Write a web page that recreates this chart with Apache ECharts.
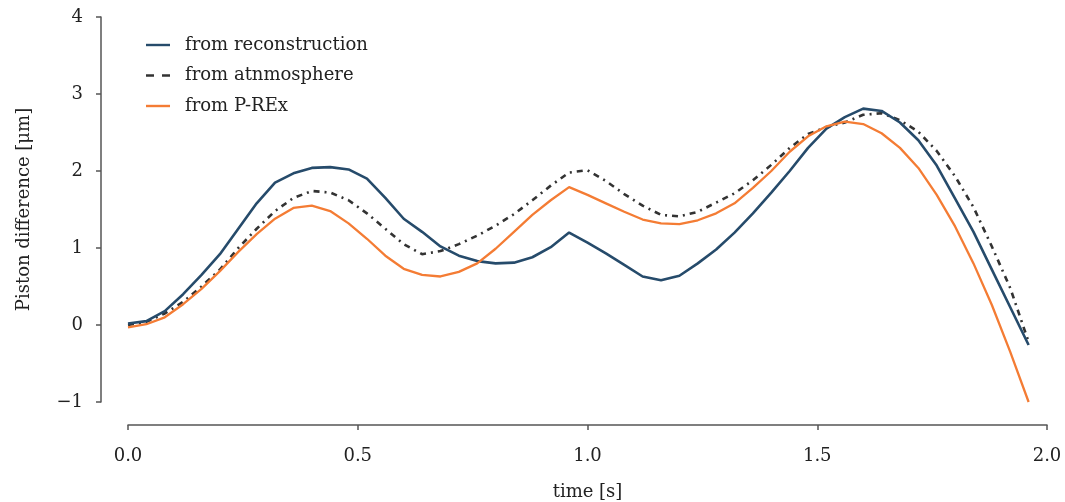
<!DOCTYPE html>
<html>
<head>
<meta charset="utf-8">
<script src="https://cdn.jsdelivr.net/npm/echarts@6/dist/echarts.min.js"></script>
<style>
  html, body { margin: 0; padding: 0; background: #fff; }
  #chart { width: 1065px; height: 502px; }
</style>
</head>
<body>
<div id="chart"></div>
<script>
// Sample times [s]
const time = [0.00, 0.04, 0.08, 0.12, 0.16, 0.20, 0.24, 0.28, 0.32, 0.36,
              0.40, 0.44, 0.48, 0.52, 0.56, 0.60, 0.64, 0.68, 0.72, 0.76,
              0.80, 0.84, 0.88, 0.92, 0.96, 1.00, 1.04, 1.08, 1.12, 1.16,
              1.20, 1.24, 1.28, 1.32, 1.36, 1.40, 1.44, 1.48, 1.52, 1.56,
              1.60, 1.64, 1.68, 1.72, 1.76, 1.80, 1.84, 1.88, 1.92, 1.96];

// Piston difference [µm]
const reconstruction = [0.02, 0.05, 0.18, 0.40, 0.65, 0.92, 1.25, 1.58, 1.85, 1.97,
                        2.04, 2.05, 2.02, 1.90, 1.65, 1.38, 1.21, 1.02, 0.90, 0.83,
                        0.80, 0.81, 0.88, 1.01, 1.20, 1.07, 0.93, 0.78, 0.63, 0.58,
                        0.64, 0.80, 0.98, 1.20, 1.45, 1.72, 2.00, 2.30, 2.55, 2.70,
                        2.81, 2.78, 2.63, 2.40, 2.07, 1.64, 1.21, 0.72, 0.23, -0.26];

const atmosphere = [0.00, 0.04, 0.15, 0.30, 0.50, 0.72, 1.00, 1.25, 1.48, 1.65,
                    1.74, 1.72, 1.62, 1.45, 1.25, 1.05, 0.92, 0.96, 1.05, 1.16,
                    1.29, 1.44, 1.62, 1.81, 1.98, 2.01, 1.87, 1.70, 1.55, 1.43,
                    1.41, 1.47, 1.59, 1.71, 1.88, 2.08, 2.30, 2.48, 2.57, 2.63,
                    2.73, 2.75, 2.66, 2.51, 2.26, 1.93, 1.53, 1.02, 0.48, -0.22];

const prex = [-0.03, 0.01, 0.10, 0.27, 0.47, 0.70, 0.95, 1.18, 1.38, 1.52,
              1.55, 1.48, 1.32, 1.12, 0.90, 0.73, 0.65, 0.63, 0.69, 0.80,
              0.99, 1.21, 1.43, 1.62, 1.79, 1.69, 1.58, 1.47, 1.37, 1.32,
              1.31, 1.36, 1.45, 1.58, 1.78, 2.00, 2.25, 2.45, 2.58, 2.64,
              2.61, 2.49, 2.30, 2.04, 1.69, 1.28, 0.80, 0.26, -0.35, -1.00];

const xTicks = [0.0, 0.5, 1.0, 1.5, 2.0];
const yTicks = [-1, 0, 1, 2, 3, 4];

const FONT = '"DejaVu Serif", serif';
const AXIS_COLOR = '#555';
const TEXT_COLOR = '#222';
const BLUE = '#264b6b';
const GREY = '#333';
const ORANGE = '#f47c34';

const pair = (ys) => time.map((t, i) => [t, ys[i]]);

// Legend keys: plain stroke, and a pair of dashes for the dash-dot series
const SOLID_KEY = 'path://M0,0H24V2.4H0Z';
const DASH_KEY = 'path://M0,0H8V2.4H0Z M16,0H24V2.4H16Z';

const chart = echarts.init(document.getElementById('chart'), null, { renderer: 'canvas' });

chart.setOption({
  animation: false,
  backgroundColor: '#fff',
  textStyle: { fontFamily: FONT, color: TEXT_COLOR },
  grid: { left: 128, right: 18, top: 17, bottom: 100, containLabel: false, outerBoundsMode: 'none' },
  legend: {
    left: 141,
    top: 31,
    orient: 'vertical',
    itemWidth: 24,
    itemHeight: 2.4,
    itemGap: 12.5,
    textStyle: { fontFamily: FONT, fontSize: 18, color: TEXT_COLOR, padding: [0, 0, 0, 10] },
    data: [
      { name: 'from reconstruction', icon: SOLID_KEY, itemStyle: { color: BLUE } },
      { name: 'from atnmosphere', icon: DASH_KEY, itemStyle: { color: GREY } },
      { name: 'from P-REx', icon: SOLID_KEY, itemStyle: { color: ORANGE } }
    ]
  },
  xAxis: {
    type: 'value',
    min: xTicks[0],
    max: xTicks[xTicks.length - 1],
    interval: 0.5,
    offset: 23,
    name: 'time [s]',
    nameLocation: 'middle',
    nameGap: 58,
    nameTextStyle: { fontFamily: FONT, fontSize: 18, color: TEXT_COLOR },
    axisLine: { show: true, onZero: false, lineStyle: { color: AXIS_COLOR, width: 1.5 } },
    axisTick: { show: true, length: 5, lineStyle: { color: AXIS_COLOR, width: 1.5 } },
    axisLabel: {
      margin: 22,
      fontFamily: FONT, fontSize: 18, color: TEXT_COLOR,
      formatter: (v) => v.toFixed(1)
    },
    splitLine: { show: false }
  },
  yAxis: {
    type: 'value',
    min: yTicks[0],
    max: yTicks[yTicks.length - 1],
    interval: 1,
    offset: 27,
    name: 'Piston difference [μm]',
    nameLocation: 'middle',
    nameGap: 68,
    nameRotate: 90,
    nameTextStyle: { fontFamily: FONT, fontSize: 18, color: TEXT_COLOR },
    axisLine: { show: true, onZero: false, lineStyle: { color: AXIS_COLOR, width: 1.5 } },
    axisTick: { show: true, length: 5, lineStyle: { color: AXIS_COLOR, width: 1.5 } },
    axisLabel: {
      margin: 18,
      fontFamily: FONT, fontSize: 18, color: TEXT_COLOR,
      formatter: (v) => String(v).replace('-', '\u2212')
    },
    splitLine: { show: false }
  },
  series: [
    {
      name: 'from reconstruction',
      type: 'line',
      data: pair(reconstruction),
      symbol: 'none',
      lineStyle: { color: BLUE, width: 2.6 },
      itemStyle: { color: BLUE },
      z: 3
    },
    {
      name: 'from atnmosphere',
      type: 'line',
      data: pair(atmosphere),
      symbol: 'none',
      lineStyle: { color: GREY, width: 2.6, type: [6, 5, 2, 5] },
      itemStyle: { color: GREY },
      z: 2
    },
    {
      name: 'from P-REx',
      type: 'line',
      data: pair(prex),
      symbol: 'none',
      lineStyle: { color: ORANGE, width: 2.3 },
      itemStyle: { color: ORANGE },
      z: 4
    }
  ]
});
</script>
</body>
</html>
